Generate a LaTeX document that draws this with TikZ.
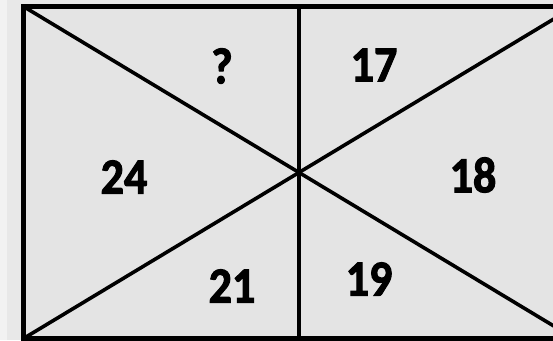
\documentclass[tikz,border=0pt]{standalone}
\usepackage{fontspec}
\setmainfont{Carlito}[BoldFeatures={FakeBold=2.2}]
\definecolor{outerbg}{gray}{0.91}
\definecolor{leftbg}{gray}{0.95}
\definecolor{cellbg}{gray}{0.895}
\tikzset{
  frameline/.style={line width=4.5pt, draw=black},
  diagline/.style={line width=3.6pt, draw=black},
  midline/.style={line width=3.2pt, draw=black},
  num/.style={font=\bfseries\fontsize{46}{46}\selectfont, inner sep=0pt, yscale=1.1}
}
\begin{document}
\begin{tikzpicture}[x=1pt,y=-1pt]
\useasboundingbox (0,0) rectangle (553,340);
\clip (0,0) rectangle (553,340);
\fill[outerbg] (0,0) rectangle (553,340);
\fill[leftbg] (0,0) rectangle (7,340);
\coordinate (tl) at (23.5,6.5);
\coordinate (tr) at (574.5,6.5);
\coordinate (bl) at (23.5,338.5);
\coordinate (br) at (574.5,338.5);
\coordinate (tm) at (299,6.5);
\coordinate (bm) at (299,338.5);
\fill[cellbg] (tl) rectangle (br);
\draw[diagline] (tl) -- (br);
\draw[diagline] (bl) -- (tr);
\draw[midline] (tm) -- (bm);
\draw[frameline] (tl) rectangle (br);
\node[num] (q) at (222,66) {?};
\node[num] (n17) at (374,65) {17};
\node[num] (n24) at (124,177) {24};
\node[num] (n18) at (473,175) {18};
\node[num] (n21) at (232,286) {21};
\node[num] (n19) at (369,279) {19};
\end{tikzpicture}
\end{document}
